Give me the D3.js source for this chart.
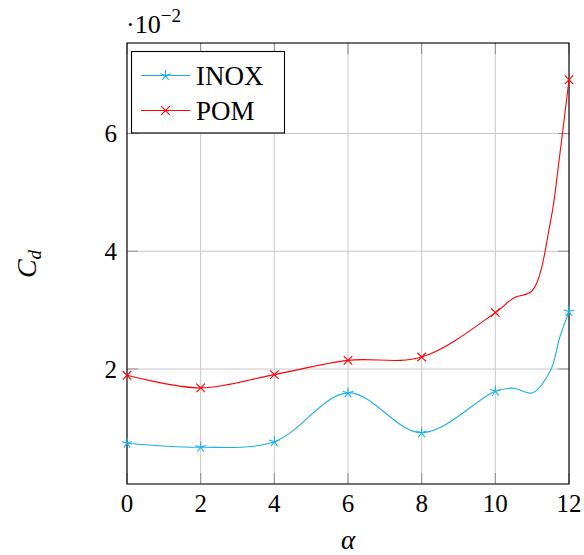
<!DOCTYPE html>
<html><head><meta charset="utf-8">
<script src="https://cdn.jsdelivr.net/npm/d3@7"></script>
<style>body{margin:0;background:#fff}svg{display:block}text{font-family:"Liberation Serif","DejaVu Serif",serif;fill:#000}</style>
</head><body>
<svg id="c" width="584" height="555"></svg>
<script>
// sampled curve (marks drawn only at the even angles)
const alphaValues = [0, 2, 4, 6, 8, 10, 10.5, 11, 11.5, 11.75, 12];
const inoxValues = [0.739, 0.671, 0.766, 1.594, 0.918, 1.623, 1.674, 1.594, 1.978, 2.54, 2.975];
const pomValues = [1.893, 1.679, 1.905, 2.147, 2.203, 2.958, 3.207, 3.33, 4.51, 5.64, 6.913];
const markedAlpha = [0, 2, 4, 6, 8, 10, 12];
const seriesNames = ["INOX", "POM"];
const seriesColors = ["#1ab0ea", "#ff0000"];
const xTicks = [0, 2, 4, 6, 8, 10, 12];
const yTicks = [2, 4, 6];

const svg = d3.select("#c");
const L = 127, R = 569, T = 43, B = 484;
const allY = inoxValues.concat(pomValues);
const [mn, mx] = d3.extent(allY);
const pad = (mx - mn) * 0.1;
const x = d3.scaleLinear().domain([0, 12]).range([L, R]);
const y = d3.scaleLinear().domain([mn - pad, mx + pad]).range([B, T]);

// grid
const g = svg.append("g");
g.selectAll(".gx").data(xTicks).join("line")
  .attr("x1", d => x(d)).attr("x2", d => x(d)).attr("y1", T).attr("y2", B)
  .attr("stroke", "#c8c8c8").attr("stroke-width", 1);
g.selectAll(".gy").data(yTicks).join("line")
  .attr("y1", d => y(d)).attr("y2", d => y(d)).attr("x1", L).attr("x2", R)
  .attr("stroke", "#c8c8c8").attr("stroke-width", 1);

// ticks (inward, all sides)
const tl = 11, tc = "#8c8c8c";
xTicks.forEach(d => {
  g.append("line").attr("x1", x(d)).attr("x2", x(d)).attr("y1", B).attr("y2", B - tl).attr("stroke", tc);
  g.append("line").attr("x1", x(d)).attr("x2", x(d)).attr("y1", T).attr("y2", T + tl).attr("stroke", tc);
});
yTicks.forEach(d => {
  g.append("line").attr("y1", y(d)).attr("y2", y(d)).attr("x1", L).attr("x2", L + tl).attr("stroke", tc);
  g.append("line").attr("y1", y(d)).attr("y2", y(d)).attr("x1", R).attr("x2", R - tl).attr("stroke", tc);
});

// axis box
svg.append("rect").attr("x", L).attr("y", T).attr("width", R - L).attr("height", B - T)
  .attr("fill", "none").attr("stroke", "#000").attr("stroke-width", 1.1);

// tick labels
svg.selectAll(".xl").data(xTicks).join("text")
  .attr("x", d => x(d)).attr("y", 512).attr("text-anchor", "middle")
  .attr("font-size", 25).text(d => d);
svg.selectAll(".yl").data(yTicks).join("text")
  .attr("x", 117).attr("y", d => y(d) + 8.5).attr("text-anchor", "end")
  .attr("font-size", 25).text(d => d);

// multiplier
const m = svg.append("text").attr("x", 126).attr("y", 33).attr("font-size", 26);
m.append("tspan").text("·10");
m.append("tspan").attr("dy", -11).attr("font-size", 19).text("−2");

// axis labels
svg.append("text").attr("x", 348).attr("y", 549).attr("text-anchor", "middle")
  .attr("font-size", 27).attr("font-style", "italic").text("α");
const yl = svg.append("text").attr("transform", "translate(36,264) rotate(-90)")
  .attr("text-anchor", "middle").attr("font-size", 28).attr("font-style", "italic");
yl.append("tspan").text("C");
yl.append("tspan").attr("dy", 5).attr("font-size", 19).text("d");

// markers
function starPath(cx, cy, r) {
  let p = "";
  for (let i = 0; i < 5; i++) {
    const a = -Math.PI / 2 + i * 2 * Math.PI / 5;
    p += `M${cx},${cy}L${cx + r * Math.cos(a)},${cy + r * Math.sin(a)}`;
  }
  return p;
}
function xPath(cx, cy, r) {
  return `M${cx - r},${cy - r}L${cx + r},${cy + r}M${cx - r},${cy + r}L${cx + r},${cy - r}`;
}
const markers = [starPath, xPath];
const series = [inoxValues, pomValues];
const line = d3.line().x(d => x(d[0])).y(d => y(d[1])).curve(d3.curveCatmullRom.alpha(0.5));

series.forEach((vals, i) => {
  const pts = alphaValues.map((a, j) => [a, vals[j]]);
  svg.append("path").attr("d", line(pts)).attr("fill", "none")
    .attr("stroke", seriesColors[i]).attr("stroke-width", 1.1);
  const mpts = pts.filter(p => markedAlpha.includes(p[0]));
  svg.append("path").attr("d", mpts.map(p => markers[i](x(p[0]), y(p[1]), i === 0 ? 5.5 : 4.3)).join(""))
    .attr("fill", "none").attr("stroke", seriesColors[i]).attr("stroke-width", 1.1);
});

// legend
const lg = svg.append("g");
lg.append("rect").attr("x", 131.5).attr("y", 51.5).attr("width", 153).attr("height", 81.5)
  .attr("fill", "#fff").attr("stroke", "#000").attr("stroke-width", 1.1);
const ly = [75.5, 110.5];
seriesNames.forEach((n, i) => {
  lg.append("line").attr("x1", 141).attr("x2", 190).attr("y1", ly[i]).attr("y2", ly[i])
    .attr("stroke", seriesColors[i]).attr("stroke-width", 1.1);
  lg.append("path").attr("d", markers[i](165.5, ly[i], i === 0 ? 5.5 : 4.3))
    .attr("fill", "none").attr("stroke", seriesColors[i]).attr("stroke-width", 1.1);
  lg.append("text").attr("x", 196).attr("y", ly[i] + 9).attr("font-size", 27).text(n);
});
</script>
</body></html>
